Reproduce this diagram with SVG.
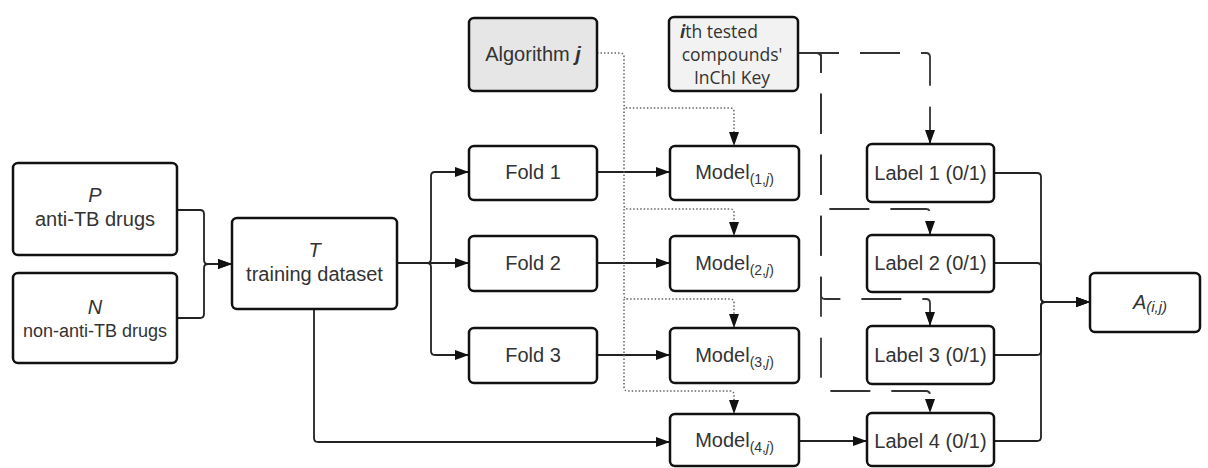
<svg xmlns="http://www.w3.org/2000/svg" width="1208" height="468" viewBox="0 0 1208 468">
<defs>
<marker id="ah" markerUnits="userSpaceOnUse" markerWidth="14" markerHeight="10" refX="14" refY="5" orient="auto">
<path d="M0,0 L14,5 L0,10 z" fill="#111"/>
</marker>
<style>
.box{fill:#fff;stroke:#111;stroke-width:2.5}
.alg{fill:#e6e6e6}
.ith{fill:#f2f2f2}
.t{font-family:"Liberation Sans",Arial,sans-serif;font-size:20px;fill:#333;text-anchor:middle}
.os{font-family:"Open Sans","Liberation Sans",sans-serif;font-size:17.5px;fill:#333}
.c{fill:none;stroke:#222;stroke-width:1.8}
.dot{fill:none;stroke:#666;stroke-width:1.5;stroke-dasharray:1.5 2}
.dash{fill:none;stroke:#333;stroke-width:1.8;stroke-dasharray:40 21}
.sub{font-size:14px}
</style>
</defs>
<rect width="1208" height="468" fill="#fff"/>
<g id="connectors">
<path class="c" d="M177,210 H200 Q204,210 204,214 V260 Q204,264 208,264 H232" marker-end="url(#ah)"/>
<path class="c" d="M177,318 H200 Q204,318 204,314 V268 Q204,264 208,264 H232" marker-end="url(#ah)"/>
<path class="c" d="M397,263 H427 Q431,263 431,259 V176 Q431,172 435,172 H469" marker-end="url(#ah)"/>
<path class="c" d="M397,263 H469" marker-end="url(#ah)"/>
<path class="c" d="M397,263 H427 Q431,263 431,267 V351 Q431,355 435,355 H469" marker-end="url(#ah)"/>
<path class="c" d="M597,172 H670" marker-end="url(#ah)"/>
<path class="c" d="M597,263 H670" marker-end="url(#ah)"/>
<path class="c" d="M597,355 H670" marker-end="url(#ah)"/>
<path class="c" d="M314,309 V438 Q314,442 318,442 H670" marker-end="url(#ah)"/>
<path class="c" d="M799,441 H867" marker-end="url(#ah)"/>
<path class="c" d="M994,173 H1037 Q1041,173 1041,177 V298 Q1041,302 1045,302 H1090" marker-end="url(#ah)"/>
<path class="c" d="M994,263 H1037 Q1041,263 1041,267 V298 Q1041,302 1045,302 H1090" marker-end="url(#ah)"/>
<path class="c" d="M994,355 H1037 Q1041,355 1041,351 V306 Q1041,302 1045,302 H1090" marker-end="url(#ah)"/>
<path class="c" d="M994,441 H1037 Q1041,441 1041,437 V306 Q1041,302 1045,302 H1090" marker-end="url(#ah)"/>
<path class="dot" d="M597,53 H620 Q624,53 624,57 V104 Q624,108 628,108 H730 Q734,108 734,112 V146" marker-end="url(#ah)"/>
<path class="dot" d="M624,108 V205 Q624,209 628,209 H730 Q734,209 734,213 V236" marker-end="url(#ah)"/>
<path class="dot" d="M624,209 V295 Q624,299 628,299 H730 Q734,299 734,303 V328" marker-end="url(#ah)"/>
<path class="dot" d="M624,299 V387 Q624,391 628,391 H730 Q734,391 734,395 V414" marker-end="url(#ah)"/>
<path class="dash" d="M799,53 H926 Q930,53 930,57 V144" marker-end="url(#ah)"/>
<path class="dash" d="M799,53 H817 Q821,53 821,57 V205 Q821,209 825,209 H926 Q930,209 930,213 V235" marker-end="url(#ah)"/>
<path class="dash" d="M799,53 H817 Q821,53 821,57 V295 Q821,299 825,299 H926 Q930,299 930,303 V326" marker-end="url(#ah)"/>
<path class="dash" d="M799,53 H817 Q821,53 821,57 V387 Q821,391 825,391 H926 Q930,391 930,395 V413" marker-end="url(#ah)"/>
</g>
<g id="P"><rect class="box" x="13" y="163" width="164" height="92" rx="5"/>
<text class="t" x="95" y="202" font-style="italic">P</text>
<text class="t" x="95" y="226">anti-TB drugs</text></g>
<g id="N"><rect class="box" x="13" y="273" width="164" height="90" rx="5"/>
<text class="t" x="95" y="314" font-style="italic">N</text>
<text class="t" x="95" y="337" style="font-size:18px">non-anti-TB drugs</text></g>
<g id="T"><rect class="box" x="232" y="218" width="165" height="91" rx="5"/>
<text class="t" x="314.5" y="257" font-style="italic">T</text>
<text class="t" x="314.5" y="281">training dataset</text></g>
<g id="algorithm"><rect class="box alg" x="469" y="18" width="128" height="73" rx="5"/>
<text class="t" x="533" y="61">Algorithm <tspan font-weight="bold" font-style="italic">j</tspan></text></g>
<g id="ith"><rect class="box ith" x="669" y="17" width="129" height="74" rx="5"/>
<text class="os" x="680" y="38"><tspan font-weight="bold" font-style="italic">i</tspan>th tested</text>
<text class="os" x="732" y="61" text-anchor="middle">compounds'</text>
<text class="os" x="732" y="84" text-anchor="middle">InChI Key</text></g>
<g id="fold1"><rect class="box" x="469" y="146" width="128" height="54" rx="5"/><text class="t" x="533" y="179">Fold 1</text></g>
<g id="fold2"><rect class="box" x="469" y="236" width="128" height="55" rx="5"/><text class="t" x="533" y="270">Fold 2</text></g>
<g id="fold3"><rect class="box" x="469" y="328" width="128" height="55" rx="5"/><text class="t" x="533" y="362">Fold 3</text></g>
<g id="model1"><rect class="box" x="670" y="146" width="129" height="54" rx="5"/><text class="t" x="734.5" y="179">Model<tspan class="sub" dy="5">(1,<tspan font-style="italic">j</tspan>)</tspan></text></g>
<g id="model2"><rect class="box" x="670" y="236" width="129" height="55" rx="5"/><text class="t" x="734.5" y="270">Model<tspan class="sub" dy="5">(2,<tspan font-style="italic">j</tspan>)</tspan></text></g>
<g id="model3"><rect class="box" x="670" y="328" width="129" height="55" rx="5"/><text class="t" x="734.5" y="362">Model<tspan class="sub" dy="5">(3,<tspan font-style="italic">j</tspan>)</tspan></text></g>
<g id="model4"><rect class="box" x="670" y="414" width="129" height="52" rx="5"/><text class="t" x="734.5" y="447">Model<tspan class="sub" dy="5">(4,<tspan font-style="italic">j</tspan>)</tspan></text></g>
<g id="label1"><rect class="box" x="867" y="144" width="127" height="58" rx="5"/><text class="t" x="930.5" y="180">Label 1 (0/1)</text></g>
<g id="label2"><rect class="box" x="867" y="235" width="127" height="57" rx="5"/><text class="t" x="930.5" y="270">Label 2 (0/1)</text></g>
<g id="label3"><rect class="box" x="867" y="326" width="127" height="58" rx="5"/><text class="t" x="930.5" y="362">Label 3 (0/1)</text></g>
<g id="label4"><rect class="box" x="867" y="413" width="127" height="53" rx="5"/><text class="t" x="930.5" y="448">Label 4 (0/1)</text></g>
<g id="A"><rect class="box" x="1090" y="273" width="110" height="59" rx="5"/>
<text class="t" x="1150" y="309" font-style="italic">A<tspan font-size="15" dy="3">(i,j)</tspan></text></g>
</svg>
